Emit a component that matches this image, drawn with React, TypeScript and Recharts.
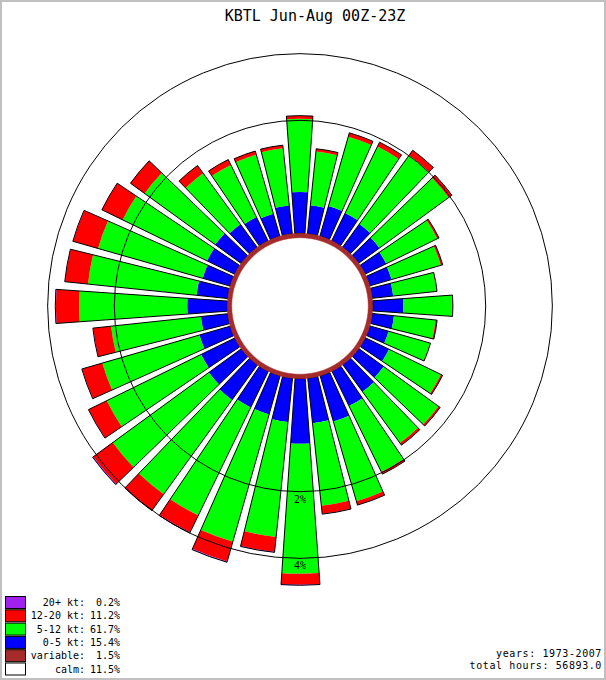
import React from 'react';
import { RadialBarChart, RadialBar, PolarAngleAxis, PolarRadiusAxis, PolarGrid } from 'recharts';

// ---------- data ----------
const directions = [0, 10, 20, 30, 40, 50, 60, 70, 80, 90, 100, 110, 120, 130, 140, 150, 160, 170,
  180, 190, 200, 210, 220, 230, 240, 250, 260, 270, 280, 290, 300, 310, 320, 330, 340, 350];

// percent of all hours, per 10-degree direction bin
const speed0to5 = [0.53, 0.34, 0.38, 0.37, 0.34, 0.30, 0.27, 0.26, 0.24, 0.37, 0.25, 0.22, 0.31, 0.37, 0.41, 0.49, 0.63, 0.59,
  0.94, 0.57, 0.51, 0.51, 0.56, 0.51, 0.47, 0.39, 0.32, 0.51, 0.38, 0.34, 0.37, 0.39, 0.34, 0.31, 0.27, 0.34];
const speed5to12 = [1.51, 0.95, 1.38, 1.42, 1.67, 1.66, 0.97, 0.85, 0.69, 0.86, 0.66, 0.67, 1.01, 1.27, 1.20, 1.49, 1.84, 1.81,
  3.61, 2.76, 3.24, 2.84, 2.78, 2.81, 2.34, 2.15, 1.79, 2.47, 2.37, 2.32, 1.93, 1.77, 1.15, 1.02, 1.07, 1.02];
const speed12to20 = [0.08, 0.06, 0.10, 0.12, 0.16, 0.10, 0.04, 0.04, 0.01, 0.01, 0.03, 0.01, 0.04, 0.05, 0.06, 0.06, 0.11, 0.23,
  0.41, 0.49, 0.72, 0.63, 0.65, 0.80, 0.62, 0.62, 0.49, 0.74, 0.71, 0.79, 0.66, 0.48, 0.22, 0.13, 0.08, 0.07];
const speed20plus = [0, 0, 0, 0, 0, 0, 0, 0, 0, 0, 0, 0, 0, 0, 0, 0, 0, 0.01,
  0.02, 0.02, 0.03, 0.02, 0.02, 0.03, 0.01, 0.01, 0.01, 0.02, 0.01, 0.01, 0, 0, 0, 0, 0, 0];

const calmPct = 11.5;
const variablePct = 1.5;

const gridPcts = [2, 4];

const legendItems = [
  { label: '20+ kt:', value: ' 0.2%', color: '#a020f0' },
  { label: '12-20 kt:', value: '11.2%', color: '#ff0000' },
  { label: '5-12 kt:', value: '61.7%', color: '#00ff00' },
  { label: '0-5 kt:', value: '15.4%', color: '#0000ff' },
  { label: 'variable:', value: ' 1.5%', color: '#a52a2a' },
  { label: 'calm:', value: '11.5%', color: '#ffffff' },
];

const titleText = 'KBTL Jun-Aug 00Z-23Z';
const footLines = ['years: 1973-2007', 'total hours: 56893.0'];

// ---------- derived table ----------
const nDir = directions.length;
const calmShare = calmPct / nDir;
const variableShare = variablePct / nDir;
const baseShare = calmShare + variableShare;

const rows = directions.map((dir, i) => ({
  dir,
  calm: calmShare,
  variable: variableShare,
  base: baseShare,
  kt0: speed0to5[i],
  kt5: speed5to12[i],
  kt12: speed12to20[i],
  kt20: speed20plus[i],
  span: speed0to5[i] + speed5to12[i] + speed12to20[i] + speed20plus[i],
}));

const gridTicks = gridPcts.map((p) => p + baseShare);

// ---------- layout ----------
const W = 606;
const H = 680;
const CX = 300;
const CY = 306;
const OUTER_R = 296;
const DOMAIN: [number, number] = [0, 6];
const START = 85;
const END = -275;
const MONO = '"DejaVu Sans Mono", "Liberation Mono", monospace';

const layer: React.CSSProperties = { position: 'absolute', left: 0, top: 0, width: W, height: H };

const commonChart = {
  width: W,
  height: H,
  cx: CX,
  cy: CY,
  innerRadius: 0,
  outerRadius: OUTER_R,
  startAngle: START,
  endAngle: END,
  data: rows,
  margin: { top: 0, right: 0, bottom: 0, left: 0 },
};

const renderRadiusTick = (props: any) => {
  const { x, y, payload } = props;
  const pct = Math.round(payload.value - baseShare);
  return (
    <text x={x} y={y + 11} textAnchor="middle" fontFamily={MONO} fontSize={10} fill="#000">
      {`${pct}%`}
    </text>
  );
};

export default function App() {
  return (
    <div style={{ position: 'absolute', left: 0, top: 0, width: W, height: H, background: '#fff', overflow: 'hidden' }}>
      {/* filled stacked legs */}
      <div style={layer}>
        <RadialBarChart {...commonChart} layout="centric" barCategoryGap="11%">
          <PolarAngleAxis type="category" dataKey="dir" tick={false} axisLine={false} tickLine={false} />
          <PolarRadiusAxis type="number" scale="sqrt" domain={DOMAIN} tick={false} axisLine={false} tickLine={false} />
          <RadialBar dataKey="base" stackId="w" fill="none" stroke="none" isAnimationActive={false} />
          <RadialBar dataKey="kt0" stackId="w" fill="#0000ff" stroke="none" isAnimationActive={false} />
          <RadialBar dataKey="kt5" stackId="w" fill="#00ff00" stroke="none" isAnimationActive={false} />
          <RadialBar dataKey="kt12" stackId="w" fill="#ff0000" stroke="none" isAnimationActive={false} />
          <RadialBar dataKey="kt20" stackId="w" fill="#a020f0" stroke="none" isAnimationActive={false} />
        </RadialBarChart>
      </div>
      {/* black outline of each leg */}
      <div style={layer}>
        <RadialBarChart {...commonChart} layout="centric" barCategoryGap="11%">
          <PolarAngleAxis type="category" dataKey="dir" tick={false} axisLine={false} tickLine={false} />
          <PolarRadiusAxis type="number" scale="sqrt" domain={DOMAIN} tick={false} axisLine={false} tickLine={false} />
          <RadialBar dataKey="base" stackId="o" fill="none" stroke="none" isAnimationActive={false} />
          <RadialBar dataKey="span" stackId="o" fill="none" stroke="#000" strokeWidth={1} isAnimationActive={false} />
        </RadialBarChart>
      </div>
      {/* calm / variable centre, reference circles */}
      <div style={layer}>
        <RadialBarChart {...commonChart} layout="centric" barCategoryGap={0}>
          <PolarGrid gridType="circle" radialLines={false} stroke="#000" strokeWidth={1} />
          <PolarAngleAxis type="category" dataKey="dir" tick={false} axisLine={false} tickLine={false} />
          <PolarRadiusAxis
            type="number"
            scale="sqrt"
            domain={DOMAIN}
            angle={-90}
            ticks={gridTicks}
            tick={renderRadiusTick}
            axisLine={false}
            tickLine={false}
          />
          <RadialBar dataKey="calm" stackId="c" fill="#ffffff" stroke="#ffffff" strokeWidth={0.5} isAnimationActive={false} />
          <RadialBar dataKey="variable" stackId="c" fill="#a52a2a" stroke="#a52a2a" strokeWidth={0.5} isAnimationActive={false} />
        </RadialBarChart>
      </div>
      {/* title, legend, notes */}
      <svg style={layer} width={W} height={H}>
        <text x={315} y={21} textAnchor="middle" fontFamily={MONO} fontSize={15} fill="#000">
          {titleText}
        </text>
        {legendItems.map((it, i) => {
          const top = 596 + i * 13.3;
          return (
            <g key={it.label}>
              <rect x={5.5} y={top + 0.5} width={20} height={12} fill={it.color} stroke="#000" strokeWidth={1} />
              <text x={85} y={top + 10} textAnchor="end" fontFamily={MONO} fontSize={10} fill="#000">
                {it.label}
              </text>
              <text x={120} y={top + 10} textAnchor="end" fontFamily={MONO} fontSize={10} fill="#000" style={{ whiteSpace: 'pre' }}>
                {it.value}
              </text>
            </g>
          );
        })}
        {footLines.map((t, i) => (
          <text key={t} x={602} y={657 + i * 11.5} textAnchor="end" fontFamily={MONO} fontSize={10} letterSpacing={0.6} fill="#000">
            {t}
          </text>
        ))}
        <rect x={1} y={1} width={W - 2} height={H - 2} fill="none" stroke="#c0c0c0" strokeWidth={2} />
      </svg>
    </div>
  );
}
